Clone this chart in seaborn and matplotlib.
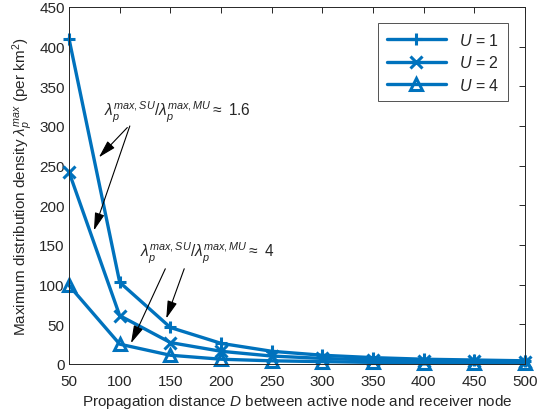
import matplotlib
matplotlib.use("Agg")
import matplotlib.pyplot as plt
import seaborn as sns
import pandas as pd

D = [50, 100, 150, 200, 250, 300, 350, 400, 450, 500]
u1 = [410, 103, 46, 26, 16, 11, 8, 6, 5, 4]
u2 = [242, 61, 27, 16, 10, 7, 5, 4, 3.5, 3]
u4 = [99, 25, 11, 6, 4, 3, 2, 1.5, 1.2, 1]
labels = ["$U$ = 1", "$U$ = 2", "$U$ = 4"]
xticks = [50, 100, 150, 200, 250, 300, 350, 400, 450, 500]
yticks = [0, 50, 100, 150, 200, 250, 300, 350, 400, 450]

sns.set_theme(style="white")
plt.rcParams['font.family'] = ['Liberation Sans', 'DejaVu Sans']
plt.rcParams['mathtext.fontset'] = 'custom'
plt.rcParams['mathtext.rm'] = 'Liberation Sans'
plt.rcParams['mathtext.it'] = 'Liberation Sans:italic'
plt.rcParams['mathtext.bf'] = 'Liberation Sans:bold'

series = {labels[0]: u1, labels[1]: u2, labels[2]: u4}

fig = plt.figure(figsize=(5.37, 4.14), dpi=100)
ax = fig.add_axes([0.1285, 0.1184, 0.978 - 0.1285, 0.9807 - 0.1184])
color = "#0072BD"
markers = {labels[0]: "+", labels[1]: "x", labels[2]: "^"}
for lab in labels:
    sub = pd.DataFrame({"D": D, "val": series[lab]})
    tri = markers[lab] == "^"
    sns.lineplot(data=sub, x="D", y="val", ax=ax, color=color, lw=2.4,
                 marker=markers[lab], markersize=8.5 if tri else 9,
                 markeredgewidth=2.2, markeredgecolor=color,
                 markerfacecolor="none" if tri else color,
                 estimator=None, errorbar=None, label=lab, clip_on=False)

ax.set_xlim(50, 500)
ax.set_ylim(0, 450)
ax.set_xticks(xticks)
ax.set_yticks(yticks)
ax.tick_params(direction="in", length=4, top=True, right=True, labelsize=11,
               colors="#262626", labelcolor="#262626", width=0.7)
ax.tick_params(axis="x", pad=7)
ax.tick_params(axis="y", pad=3)
for s in ax.spines.values():
    s.set_color("#262626")
    s.set_linewidth(0.7)
ax.set_xlabel("Propagation distance $D$ between active node and receiver node",
              fontsize=11, color="#262626", labelpad=3)
ax.set_ylabel("Maximum distribution density $\\lambda_p^{max}$ (per km$^2$)",
              fontsize=11, color="#262626", labelpad=3)

leg = ax.legend(loc="upper right", bbox_to_anchor=(0.962, 0.955), borderaxespad=0,
                fontsize=11.5, frameon=True, fancybox=False, edgecolor="#262626",
                handlelength=3.7, borderpad=0.55, labelspacing=0.4)
leg.get_frame().set_linewidth(0.7)

ratio1 = "$\\lambda_p^{max,SU}/\\lambda_p^{max,MU}\\approx$ 1.6"
ratio2 = "$\\lambda_p^{max,SU}/\\lambda_p^{max,MU}\\approx$ 4"
ap = dict(arrowstyle="-|>,head_length=0.9,head_width=0.25", color="black",
          lw=0.8, mutation_scale=12)
ax.annotate(ratio1, xy=(77.6, 258), xytext=(157, 318), fontsize=11.2,
            ha="center", va="center", arrowprops=dict(ap, shrinkA=0, relpos=(0.18, 0.0)))
ax.annotate("", xy=(73.7, 165), xytext=(110, 300), arrowprops=dict(ap, shrinkA=0))
ax.annotate(ratio2, xy=(145, 54), xytext=(186, 140), fontsize=11.2,
            ha="center", va="center", arrowprops=dict(ap, shrinkA=0, relpos=(0.34, 0.0)))
ax.annotate("", xy=(110, 23), xytext=(145, 120), arrowprops=dict(ap, shrinkA=0))

fig.savefig("out.png", dpi=100)
